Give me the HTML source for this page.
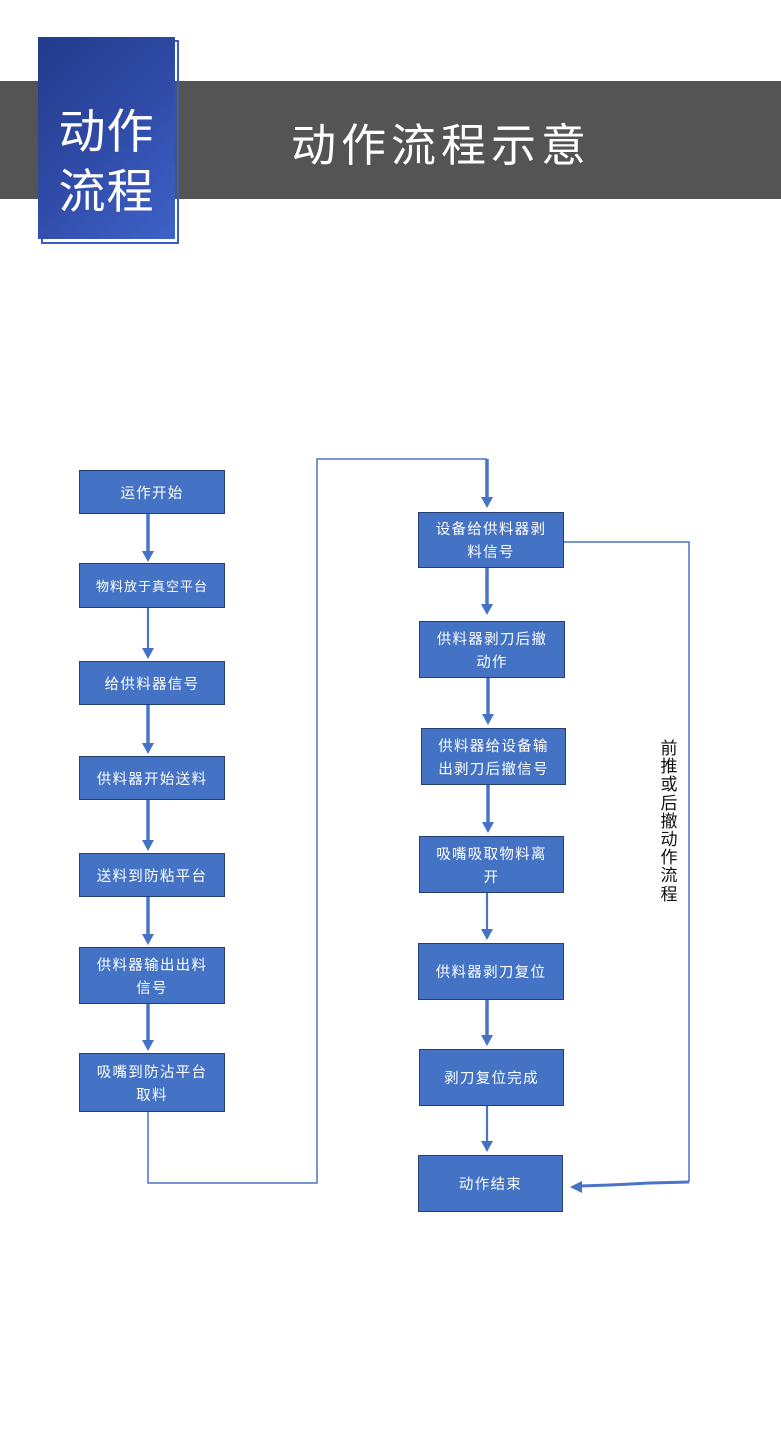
<!DOCTYPE html>
<html><head><meta charset="utf-8">
<style>
html,body{margin:0;padding:0;background:#fff;}
body{width:781px;height:1431px;position:relative;overflow:hidden;font-family:"Liberation Sans","Noto Sans CJK SC",sans-serif;}
.band{position:absolute;left:0;top:81px;width:781px;height:118px;background:#545454;}
.outline{position:absolute;left:41px;top:40px;width:134px;height:200px;border:2px solid #3c5cc4;}
.tag{position:absolute;left:38px;top:37px;width:137px;height:202px;background:linear-gradient(135deg,#233b8c 0%,#2f4ba6 50%,#3f62c9 100%);}
.tag div{position:absolute;left:0;width:137px;text-align:center;color:#fff;font-size:47px;line-height:50px;letter-spacing:1px;font-weight:normal;font-family:"Noto Sans CJK SC",sans-serif;}
.title{position:absolute;left:241px;top:112px;width:400px;text-align:center;color:#fff;font-size:45px;line-height:60px;letter-spacing:5px;font-weight:normal;font-family:"Noto Sans CJK SC",sans-serif;}
.b{position:absolute;box-sizing:border-box;background:#4472c4;border:1.5px solid #253f70;color:#fff;display:flex;align-items:center;justify-content:center;text-align:center;font-size:14.5px;line-height:23px;letter-spacing:1.3px;font-family:"Noto Sans CJK SC",sans-serif;}
.vt{position:absolute;left:659px;top:738px;width:20px;font-size:17px;line-height:18.2px;color:#111;text-align:center;font-family:"Noto Sans CJK SC",sans-serif;}
svg{position:absolute;left:0;top:0;}
</style></head><body>
<div class="band"></div>
<div class="outline"></div>
<div class="tag"><div style="top:66px">动作</div><div style="top:126px">流程</div></div>
<div class="title">动作流程示意</div>

<svg width="781" height="1431" viewBox="0 0 781 1431">
<g fill="none" stroke="#4a74c8">
<polyline points="148,1112 148,1183 317,1183 317,459 487,459" stroke-width="1.5"/>
<line x1="487" y1="459" x2="487" y2="500" stroke-width="3.5"/>
<polyline points="564,542 689,542 689,1182" stroke-width="1.5"/>
<polyline points="689,1182 650,1183 610,1185 580,1186" stroke-width="3"/>
<line x1="148" y1="514" x2="148" y2="552" stroke-width="3.5"/>
<line x1="148" y1="608" x2="148" y2="650" stroke-width="2.2"/>
<line x1="148" y1="705" x2="148" y2="745" stroke-width="3.5"/>
<line x1="148" y1="800" x2="148" y2="842" stroke-width="3.5"/>
<line x1="148" y1="897" x2="148" y2="936" stroke-width="3.5"/>
<line x1="148" y1="1004" x2="148" y2="1042" stroke-width="3.5"/>
<line x1="487" y1="568" x2="487" y2="606" stroke-width="3.5"/>
<line x1="488" y1="678" x2="488" y2="716" stroke-width="3.5"/>
<line x1="488" y1="785" x2="488" y2="824" stroke-width="3.5"/>
<line x1="487" y1="893" x2="487" y2="931" stroke-width="2.2"/>
<line x1="487" y1="1000" x2="487" y2="1037" stroke-width="3.5"/>
<line x1="487" y1="1106" x2="487" y2="1143" stroke-width="2.2"/>
</g>
<g fill="#4472c4">
<polygon points="142,551 154,551 148,562"/>
<polygon points="142,648 154,648 148,659"/>
<polygon points="142,743 154,743 148,754"/>
<polygon points="142,840 154,840 148,851"/>
<polygon points="142,934 154,934 148,945"/>
<polygon points="142,1040 154,1040 148,1051"/>
<polygon points="481,497 493,497 487,508"/>
<polygon points="481,604 493,604 487,615"/>
<polygon points="482,714 494,714 488,725"/>
<polygon points="482,822 494,822 488,833"/>
<polygon points="481,929 493,929 487,940"/>
<polygon points="481,1035 493,1035 487,1046"/>
<polygon points="481,1141 493,1141 487,1152"/>
<polygon points="570,1187 582,1181 582,1193"/>
</g>
</svg>

<div class="b" style="left:79px;top:470px;width:146px;height:44px;">运作开始</div>
<div class="b" style="left:79px;top:563px;width:146px;height:45px;font-size:13px;letter-spacing:1px;">物料放于真空平台</div>
<div class="b" style="left:79px;top:661px;width:146px;height:44px;">给供料器信号</div>
<div class="b" style="left:79px;top:756px;width:146px;height:44px;">供料器开始送料</div>
<div class="b" style="left:79px;top:853px;width:146px;height:44px;">送料到防粘平台</div>
<div class="b" style="left:79px;top:947px;width:146px;height:57px;">供料器输出出料<br>信号</div>
<div class="b" style="left:79px;top:1053px;width:146px;height:59px;">吸嘴到防沾平台<br>取料</div>

<div class="b" style="left:418px;top:512px;width:146px;height:56px;">设备给供料器剥<br>料信号</div>
<div class="b" style="left:419px;top:621px;width:146px;height:57px;">供料器剥刀后撤<br>动作</div>
<div class="b" style="left:421px;top:728px;width:145px;height:57px;">供料器给设备输<br>出剥刀后撤信号</div>
<div class="b" style="left:419px;top:836px;width:145px;height:57px;">吸嘴吸取物料离<br>开</div>
<div class="b" style="left:418px;top:943px;width:146px;height:57px;">供料器剥刀复位</div>
<div class="b" style="left:419px;top:1049px;width:145px;height:57px;">剥刀复位完成</div>
<div class="b" style="left:418px;top:1155px;width:145px;height:57px;">动作结束</div>

<div class="vt">前<br>推<br>或<br>后<br>撤<br>动<br>作<br>流<br>程</div>
</body></html>
